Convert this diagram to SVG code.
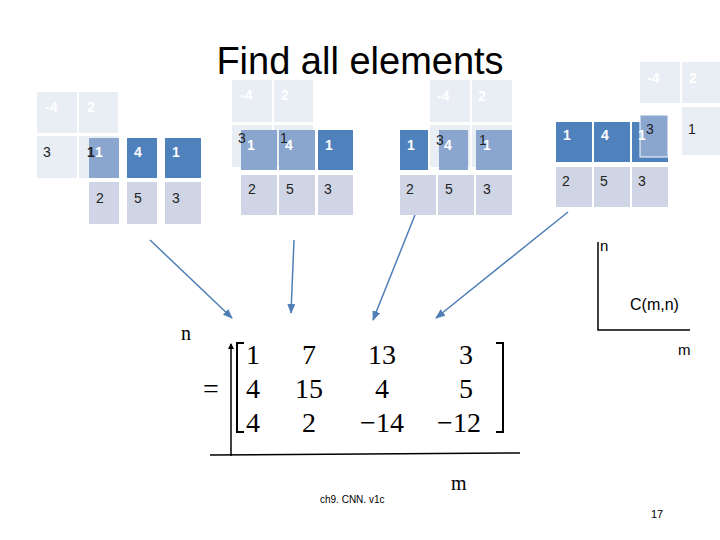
<svg xmlns="http://www.w3.org/2000/svg" width="720" height="540" viewBox="0 0 720 540">
<defs>
<style>
.l{fill:#e9edf4}.g{fill:#cfd5e4}.m{fill:#8aa6cf}.d{fill:#4f81bd}
.t{font-family:"Liberation Sans",sans-serif;font-size:14px;fill:#222}
.w{font-family:"Liberation Sans",sans-serif;font-size:14px;fill:#fff;font-weight:bold}
.s{font-family:"Liberation Serif",serif;fill:#000}
.c{font-family:"Liberation Sans",sans-serif;fill:#000}
.a{stroke:#4f7fb5;stroke-width:1.5;fill:none;marker-end:url(#ah)}
</style>
<marker id="ah" markerWidth="10" markerHeight="8" refX="9" refY="4" orient="auto" markerUnits="userSpaceOnUse"><path d="M0,0L10,4L0,8z" fill="#4f7fb5"/></marker>
<marker id="bh" markerWidth="6" markerHeight="6" refX="5" refY="3" orient="auto" markerUnits="userSpaceOnUse"><path d="M0,0L6,3L0,6z" fill="#000"/></marker>
</defs>
<rect width="720" height="540" fill="#fff"/>
<text x="360" y="74" text-anchor="middle" class="c" font-size="38">Find all elements</text>
<g id="grid1">
<rect class="l" x="37" y="92" width="40" height="41"/><rect class="l" x="79" y="92" width="39" height="41"/>
<text class="w" x="45" y="112">-4</text><text class="w" x="87" y="112">2</text>
<rect class="l" x="37" y="136" width="40" height="42"/><rect class="l" x="79" y="136" width="39" height="42"/>
<text class="t" x="43" y="157">3</text>
<rect class="m" x="89" y="138" width="30" height="40"/><rect class="d" x="127" y="138" width="30" height="40"/><rect class="d" x="165" y="138" width="36" height="40"/>
<text class="t" x="87" y="157" font-weight="bold">1</text><text class="w" x="95" y="157">1</text><text class="w" x="134" y="157">4</text><text class="w" x="172" y="157">1</text>
<rect class="g" x="89" y="182" width="30" height="42"/><rect class="g" x="127" y="182" width="30" height="42"/><rect class="g" x="165" y="182" width="36" height="42"/>
<text class="t" x="96" y="203">2</text><text class="t" x="134" y="203">5</text><text class="t" x="172" y="203">3</text>
</g>
<g id="grid2">
<rect class="l" x="232" y="80" width="40" height="42"/><rect class="l" x="274" y="80" width="39" height="42"/>
<text class="w" x="240" y="100">-4</text><text class="w" x="281" y="100">2</text>
<rect class="l" x="232" y="125" width="40" height="42"/><rect class="l" x="274" y="125" width="39" height="42"/>
<rect class="m" x="241" y="130" width="36" height="40"/><rect class="m" x="279" y="130" width="36" height="40"/><rect class="d" x="318" y="130" width="35" height="40"/>
<text class="t" x="238" y="143">3</text><text class="w" x="247" y="150">1</text><text class="t" x="280" y="143">1</text><text class="w" x="285" y="150">4</text><text class="w" x="325" y="150">1</text>
<rect class="g" x="241" y="175" width="36" height="40"/><rect class="g" x="279" y="175" width="36" height="40"/><rect class="g" x="318" y="175" width="35" height="40"/>
<text class="t" x="248" y="194">2</text><text class="t" x="286" y="194">5</text><text class="t" x="324" y="194">3</text>
</g>
<g id="grid3">
<rect class="l" x="430" y="80" width="40" height="42"/><rect class="l" x="472" y="80" width="40" height="42"/>
<text class="w" x="437" y="101">-4</text><text class="w" x="478" y="101">2</text>
<rect class="d" x="400" y="130" width="28" height="40"/>
<rect class="l" x="430" y="125" width="40" height="42"/><rect class="l" x="472" y="125" width="40" height="42"/>
<rect class="m" x="439" y="130" width="29" height="40"/><rect class="m" x="476" y="130" width="36" height="40"/>
<text class="w" x="407" y="150">1</text><text class="t" x="436" y="145">3</text><text class="w" x="444" y="150">4</text><text class="t" x="479" y="145">1</text><text class="w" x="483" y="150">1</text>
<rect class="g" x="400" y="175" width="36" height="40"/><rect class="g" x="438" y="175" width="36" height="40"/><rect class="g" x="476" y="175" width="36" height="40"/>
<text class="t" x="406" y="194">2</text><text class="t" x="445" y="194">5</text><text class="t" x="483" y="194">3</text>
</g>
<g id="grid4">
<rect class="l" x="640" y="62" width="40" height="41"/><rect class="l" x="682" y="62" width="38" height="41"/>
<text class="w" x="647" y="83">-4</text><text class="w" x="689" y="83">2</text>
<rect class="l" x="682" y="107" width="38" height="48"/>
<rect class="d" x="556" y="122" width="36" height="40"/><rect class="d" x="594" y="122" width="36" height="40"/><rect class="d" x="632" y="122" width="36" height="40"/>
<rect class="m" x="640" y="115" width="28" height="42" stroke="#fff" stroke-width="1"/>
<text class="w" x="563" y="140">1</text><text class="w" x="601" y="140">4</text><text class="w" x="638" y="140">1</text><text class="t" x="646" y="134">3</text><text class="t" x="688" y="134">1</text>
<rect class="g" x="556" y="167" width="36" height="40"/><rect class="g" x="594" y="167" width="36" height="40"/><rect class="g" x="632" y="167" width="36" height="40"/>
<text class="t" x="562" y="186">2</text><text class="t" x="600" y="186">5</text><text class="t" x="638" y="186">3</text>
</g>
<g id="connectors">
<line class="a" x1="150" y1="240" x2="232" y2="318"/>
<line class="a" x1="294" y1="240" x2="291" y2="313"/>
<line class="a" x1="415" y1="215" x2="373" y2="320"/>
<line class="a" x1="568" y1="212" x2="436" y2="318" transform="translate(0,0)"/>
<line x1="231" y1="456" x2="231" y2="344" stroke="#000" stroke-width="1.5" marker-end="url(#bh)"/>
<line x1="210" y1="455" x2="520" y2="453" stroke="#000" stroke-width="1.5"/>
<polyline points="598,242 598,330 690,330" fill="none" stroke="#000" stroke-width="1.5"/>
</g>
<g id="matrix" class="s" font-size="28">
<text x="203" y="398">=</text>
<path d="M244,343H237V432H244M496,343H503V432H496" fill="none" stroke="#000" stroke-width="2"/>
<g text-anchor="middle"><text x="253" y="364">1</text><text x="309" y="364">7</text><text x="382" y="364">13</text><text x="466" y="364">3</text>
<text x="253" y="398">4</text><text x="309" y="398">15</text><text x="382" y="398">4</text><text x="466" y="398">5</text>
<text x="253" y="432">4</text><text x="309" y="432">2</text><text x="382" y="432">−14</text><text x="459" y="432">−12</text></g>
</g>
<text class="s" x="181" y="340" font-size="20">n</text>
<text class="s" x="451" y="490" font-size="20">m</text>
<text class="c" x="600" y="251" font-size="15">n</text>
<text class="c" x="630" y="310" font-size="16">C(m,n)</text>
<text class="c" x="678" y="355" font-size="15">m</text>
<text class="c" x="320" y="503" font-size="10" fill="#555">ch9. CNN. v1c</text>
<text class="c" x="651" y="518" font-size="11" fill="#555">17</text>
</svg>
